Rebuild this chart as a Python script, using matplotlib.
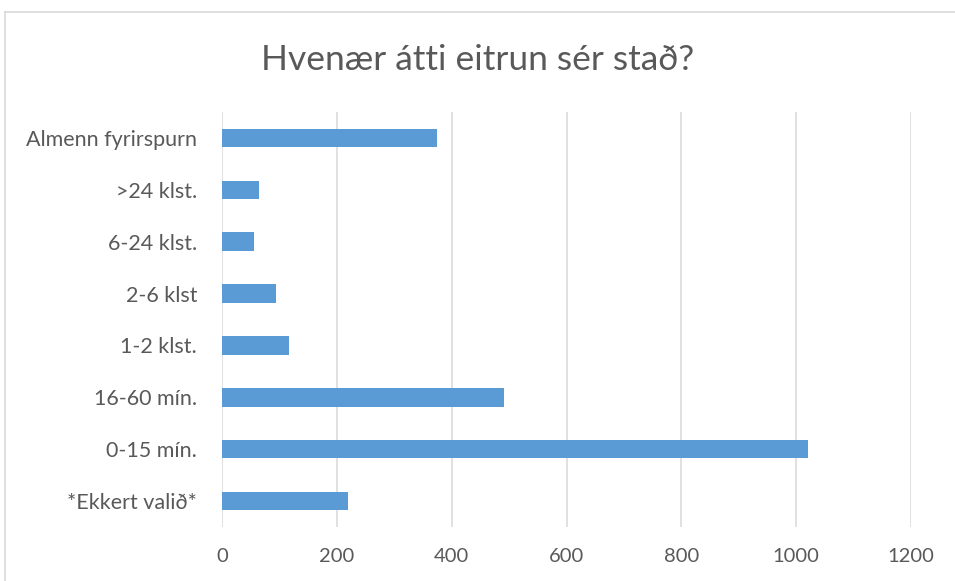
import matplotlib
matplotlib.use("Agg")
from matplotlib import pyplot as plt
from matplotlib.lines import Line2D

# data (top to bottom as shown)
categories = ["Almenn fyrirspurn", ">24 klst.", "6-24 klst.", "2-6 klst",
              "1-2 klst.", "16-60 mín.", "0-15 mín.", "*Ekkert valið*"]
counts = [375, 65, 56, 94, 117, 492, 1021, 220]
xticks = [0, 200, 400, 600, 800, 1000, 1200]
title = "Hvenær átti eitrun sér stað?"

plt.rcParams['font.family'] = ['Lato', 'DejaVu Sans']
text_color = '#595959'
grid_color = '#d9d9d9'
bar_color = '#5b9bd5'

fig = plt.figure(figsize=(9.55, 5.81), dpi=100)
ax = fig.add_axes([222/955, 1 - 527/581, 689/955, 415/581])

# first category at the top, like excel
ypos = list(range(len(categories)))[::-1]
ax.barh(ypos, counts, height=0.355, color=bar_color, zorder=3)

ax.set_xlim(0, 1200)
ax.set_ylim(-0.5, len(categories) - 0.5)
ax.set_xticks(xticks)
ax.set_xticklabels([str(t) for t in xticks])
ax.set_yticks(ypos)
ax.set_yticklabels(categories)

ax.grid(axis='x', color=grid_color, linewidth=1.1, zorder=0)
ax.tick_params(axis='y', length=0, labelsize=15.5, labelcolor=text_color, pad=18)
ax.tick_params(axis='x', length=0, labelsize=14.5, labelcolor=text_color, pad=15)
for s in ax.spines.values():
    s.set_visible(False)

fig.text(0.5, 1 - 60/581, title, ha='center', va='center',
         fontsize=25.5, color=text_color)

# chart-area border (only top and left show in the reference)
fig.add_artist(Line2D([4.5/955, 1], [1 - 11.5/581, 1 - 11.5/581],
                      transform=fig.transFigure, color=grid_color, lw=1.2))
fig.add_artist(Line2D([4.5/955, 4.5/955], [0, 1 - 11.5/581],
                      transform=fig.transFigure, color=grid_color, lw=1.2))

fig.savefig("out.png", dpi=100)
